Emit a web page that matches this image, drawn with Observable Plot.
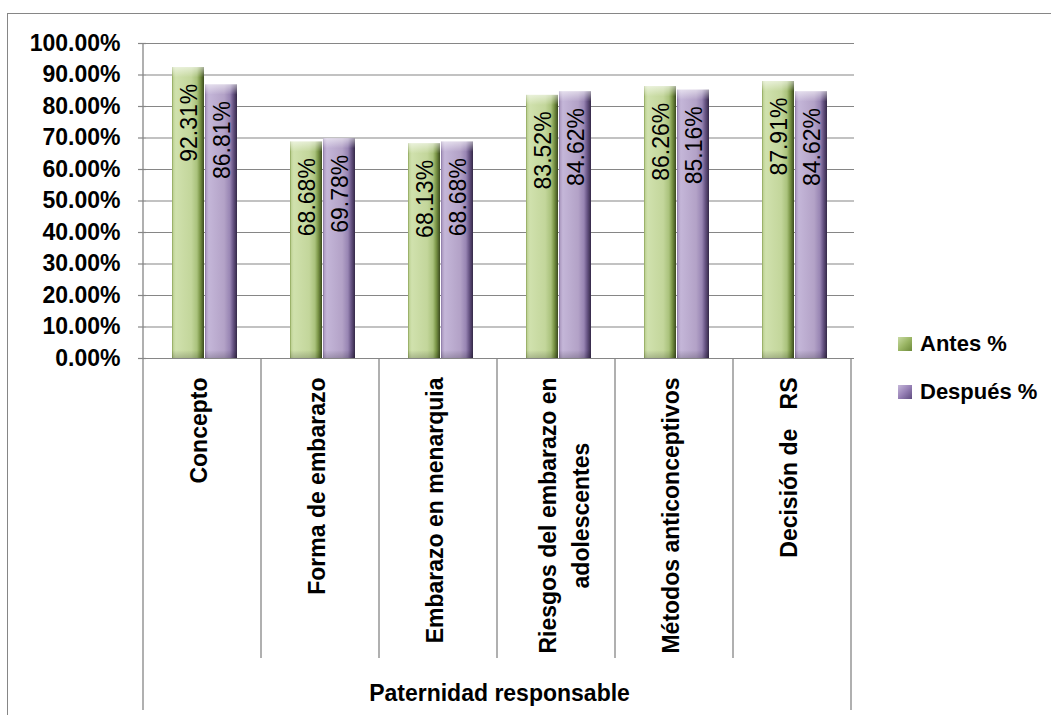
<!DOCTYPE html>
<html><head><meta charset="utf-8">
<script src="https://cdn.jsdelivr.net/npm/d3@7"></script>
<script src="https://cdn.jsdelivr.net/npm/@observablehq/plot@0.6"></script>
<style>
body{margin:0;background:#fff;overflow:hidden;font-family:"Liberation Sans",Arial,sans-serif}
#wrap{position:relative;width:1051px;height:715px;overflow:hidden}
#chart{position:absolute;left:0;top:0}
#border{position:absolute;left:7px;top:13px;width:1100px;height:800px;border:1.5px solid #868686;box-sizing:border-box;pointer-events:none}
#legend{position:absolute;left:898px;top:330px}
.item{display:flex;align-items:center;height:28px;margin-bottom:20px;font-weight:bold;font-size:22px;color:#000}
.sw{width:14px;height:14px;margin-right:8px}
</style></head><body>
<div id="wrap"><div id="chart"></div><div id="legend"></div><div id="border"></div></div>
<script>
// ---- data ----
const categories = ["Concepto", "Forma de embarazo", "Embarazo en menarquia", "Riesgos del embarazo en\nadolescentes", "Métodos anticonceptivos", "Decisión de\u00a0\u00a0\u00a0RS"];
const series = ["Antes %", "Después %"];
const antes = [0.9231, 0.6868, 0.6813, 0.8352, 0.8626, 0.8791];
const despues = [0.8681, 0.6978, 0.6868, 0.8462, 0.8516, 0.8462];
const yTicks = [0, 0.1, 0.2, 0.3, 0.4, 0.5, 0.6, 0.7, 0.8, 0.9, 1.0];
const groupTitle = "Paternidad responsable";
const seriesFill = {"Antes %": "url(#gGreen)", "Después %": "url(#gPurple)"};
const swatchCss = {
  "Antes %": "linear-gradient(135deg,#c9dba5 0%,#9bb665 50%,#6d8a3a 100%)",
  "Después %": "linear-gradient(135deg,#c6b8da 0%,#9680b5 50%,#5f4c80 100%)"
};

const data = [];
categories.forEach((c, i) => {
  data.push({cat: c, series: series[0], value: antes[i]});
  data.push({cat: c, series: series[1], value: despues[i]});
});

const gridColor = "#868686";
const font = "'Liberation Sans', Arial, sans-serif";
const catFont = 23;

const plot = Plot.plot({
  width: 1051,
  height: 715,
  marginLeft: 143,
  marginRight: 195,
  marginTop: 43,
  marginBottom: 357,
  style: {background: "transparent", fontFamily: font, overflow: "visible"},
  fx: {domain: categories, paddingInner: 0, paddingOuter: 0, axis: null},
  x: {domain: series, paddingInner: 0.03, paddingOuter: 0.77, axis: null},
  y: {domain: [0, 1]},
  marks: [
    Plot.gridY(yTicks, {stroke: gridColor, strokeOpacity: 1, strokeWidth: 1.2}),
    Plot.axisY(yTicks, {
      tickSize: 8, tickPadding: 18, stroke: gridColor, strokeWidth: 1.2,
      tickFormat: d => (d * 100).toFixed(2) + "%",
      fontSize: 23, fontWeight: "bold", fill: "#000", label: null
    }),
    Plot.barY(data, {fx: "cat", x: "series", y: "value", fill: d => seriesFill[d.series]}),
    Plot.barY(data, {fx: "cat", x: "series", y1: d => d.value - 0.032, y2: "value", fill: "url(#gCap)"}),
    Plot.barY(data, {fx: "cat", x: "series", y1: 0, y2: 0.025, fill: "url(#gBottom)"}),
    Plot.text(data, {
      fx: "cat", x: "series", y: "value",
      text: d => (d.value * 100).toFixed(2) + "%",
      rotate: -90, textAnchor: "end", dy: 16, dx: 1,
      fontSize: 23, fill: "#000"
    }),
    Plot.text(categories, {
      fx: d => d, text: d => d,
      frameAnchor: "bottom", dy: 19, dx: 1,
      rotate: -90, textAnchor: "end", lineHeight: 1.45,
      fontSize: catFont, fontWeight: "bold", fill: "#000"
    })
  ]
});

document.getElementById("chart").appendChild(plot);
const svg = d3.select(plot);

// gradients for the bevelled bars
const defs = svg.insert("defs", ":first-child");
function hGrad(id, stops) {
  const g = defs.append("linearGradient").attr("id", id).attr("x1", 0).attr("x2", 1).attr("y1", 0).attr("y2", 0);
  stops.forEach(([o, c]) => g.append("stop").attr("offset", o).attr("stop-color", c));
}
hGrad("gGreen", [[0, "#8aa255"], [0.05, "#c3d69b"], [0.12, "#d0e1ad"], [0.6, "#c3d69b"], [0.78, "#aac27c"], [0.88, "#7a9546"], [1, "#3a4a1d"]]);
hGrad("gPurple", [[0, "#8674a2"], [0.05, "#b3a2c7"], [0.12, "#c4b6d8"], [0.6, "#b3a2c7"], [0.78, "#9885b3"], [0.88, "#685585"], [1, "#342847"]]);
const cap = defs.append("linearGradient").attr("id", "gCap").attr("x1", 0).attr("x2", 0).attr("y1", 0).attr("y2", 1);
cap.append("stop").attr("offset", 0).attr("stop-color", "#fff").attr("stop-opacity", 0.55);
cap.append("stop").attr("offset", 1).attr("stop-color", "#fff").attr("stop-opacity", 0);
const bot = defs.append("linearGradient").attr("id", "gBottom").attr("x1", 0).attr("x2", 0).attr("y1", 0).attr("y2", 1);
bot.append("stop").attr("offset", 0).attr("stop-color", "#000").attr("stop-opacity", 0);
bot.append("stop").attr("offset", 1).attr("stop-color", "#000").attr("stop-opacity", 0.18);

// category table lines, from the plot's own scales
const fx = plot.scale("fx"), y = plot.scale("y");
const y0 = y.apply(0), yTop = y.apply(1);
const x0 = fx.range[0], step = fx.step;
const deco = svg.append("g").attr("stroke", gridColor).attr("stroke-width", 1.3);
for (let i = 0; i <= categories.length; i++) {
  const xx = x0 + i * step;
  const outer = i === 0 || i === categories.length;
  deco.append("line").attr("x1", xx).attr("x2", xx)
    .attr("y1", i === 0 ? yTop : y0).attr("y2", outer ? y0 + 352 : y0 + 300);
}
svg.append("text").attr("x", (fx.range[0] + fx.range[1]) / 2).attr("y", y0 + 335)
  .attr("dy", "0.35em").attr("text-anchor", "middle")
  .attr("font-size", catFont).attr("font-weight", "bold").attr("font-family", font)
  .text(groupTitle);

// multi-line category label: second line centred on the first
svg.selectAll("text").each(function() {
  const ts = this.querySelectorAll("tspan");
  if (ts.length === 2) {
    const L1 = ts[0].getComputedTextLength();
    const half = 0.35 * catFont;
    ts[0].removeAttribute("dy");
    ts[1].removeAttribute("dy");
    ts[0].setAttribute("y", -13 + half);
    ts[1].setAttribute("y", 20 + half);
    ts[1].setAttribute("x", -L1 / 2);
    ts[1].style.textAnchor = "middle";
  }
});

// legend
const leg = d3.select("#legend");
series.forEach(s => {
  const it = leg.append("div").attr("class", "item");
  it.append("div").attr("class", "sw").style("background", swatchCss[s]);
  it.append("span").text(s);
});
</script>
</body></html>
